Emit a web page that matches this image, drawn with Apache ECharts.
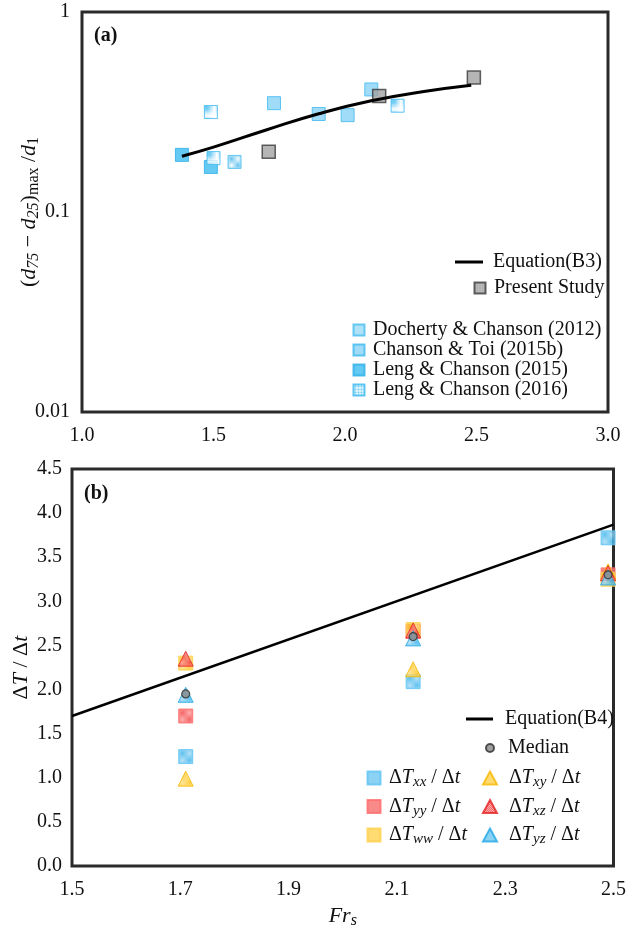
<!DOCTYPE html>
<html>
<head>
<meta charset="utf-8">
<script src="https://cdn.jsdelivr.net/npm/echarts@6/dist/echarts.min.js"></script>
<style>
  html, body { margin: 0; padding: 0; background: #ffffff; }
  #chart { width: 629px; height: 930px; }
</style>
</head>
<body>
<div id="chart"></div>
<script>
// ---------- Panel (a): (d75 - d25)max / d1 against Frs ----------
const frA_docherty = [1.58];
const valA_docherty = [0.178];
const frA_chansonToi = [1.73, 1.90, 2.01, 2.10];
const valA_chansonToi = [0.35, 0.309, 0.305, 0.41];
const frA_leng2015 = [1.38, 1.49];
const valA_leng2015 = [0.193, 0.168];
const frA_leng2016 = [1.49, 1.50, 2.20];
const valA_leng2016 = [0.316, 0.186, 0.34];
const frA_present = [1.71, 2.13, 2.49];
const valA_present = [0.20, 0.38, 0.47];
const frA_eqB3 = [1.38, 1.50, 1.70, 1.90, 2.10, 2.30, 2.48];
const valA_eqB3 = [0.19, 0.211, 0.257, 0.31, 0.36, 0.40, 0.43];
const xTicksA = [1.0, 1.5, 2.0, 2.5, 3.0];

// ---------- Panel (b): ΔT/Δt against Frs ----------
const frB = [1.71, 2.13, 2.49];
const dTxx = [1.24, 2.09, 3.72];
const dTyy = [1.70, 2.66, 3.30];
const dTww = [2.30, 2.68, 3.25];
const dTxy = [0.99, 2.23, 3.34];
const dTxz = [2.35, 2.67, 3.32];
const dTyz = [1.94, 2.58, 3.27];
const dTmedian = [1.95, 2.60, 3.30];
const frB_eqB4 = [1.5, 2.5];
const valB_eqB4 = [1.70, 3.87];
const xTicksB = [1.5, 1.7, 1.9, 2.1, 2.3, 2.5];

const zip = (xs, ys) => xs.map((x, i) => [x, ys[i]]);
const SERIF = 'Liberation Serif';

// small repeating fills for the hatched markers
function checker(c1, c2) {
  const cv = document.createElement('canvas');
  cv.width = 2; cv.height = 2;
  const ctx = cv.getContext('2d');
  ctx.fillStyle = c2; ctx.fillRect(0, 0, 2, 2);
  ctx.fillStyle = c1; ctx.fillRect(0, 0, 1, 1); ctx.fillRect(1, 1, 1, 1);
  return { image: cv, repeat: 'repeat' };
}
function gridFill(bg, line) {
  const cv = document.createElement('canvas');
  cv.width = 3; cv.height = 3;
  const ctx = cv.getContext('2d');
  ctx.fillStyle = bg; ctx.fillRect(0, 0, 3, 3);
  ctx.fillStyle = line; ctx.fillRect(0, 0, 3, 1); ctx.fillRect(0, 0, 1, 3);
  return { image: cv, repeat: 'repeat' };
}

const BLUE = '#33b2ec', RED = '#f23d3d', YEL = '#ffc20e';
const fillBlue = checker(BLUE, '#a9dcf6');
const fillRed = checker(RED, '#ff9d9d');
const fillYel = checker(YEL, '#ffe390');

const rich = {
  n: { fontFamily: SERIF, fontSize: 20, lineHeight: 24, color: '#111' },
  i: { fontFamily: SERIF, fontSize: 20, lineHeight: 24, fontStyle: 'italic', color: '#111' },
  s: { fontFamily: SERIF, fontSize: 15, lineHeight: 15, fontStyle: 'italic', verticalAlign: 'bottom', color: '#111' },
  u: { fontFamily: SERIF, fontSize: 15, lineHeight: 15, verticalAlign: 'bottom', color: '#111' }
};
const richName = {
  n: { ...rich.n, fontSize: 22, lineHeight: 26 },
  i: { ...rich.i, fontSize: 22, lineHeight: 26 },
  s: { ...rich.s, fontSize: 16, lineHeight: 16 },
  u: { ...rich.u, fontSize: 16, lineHeight: 16 }
};
const richLabels = {
  'ΔTxx/Δt': '{n|Δ}{i|T}{s|xx}{n| / Δ}{i|t}',
  'ΔTyy/Δt': '{n|Δ}{i|T}{s|yy}{n| / Δ}{i|t}',
  'ΔTww/Δt': '{n|Δ}{i|T}{s|ww}{n| / Δ}{i|t}',
  'ΔTxy/Δt': '{n|Δ}{i|T}{s|xy}{n| / Δ}{i|t}',
  'ΔTxz/Δt': '{n|Δ}{i|T}{s|xz}{n| / Δ}{i|t}',
  'ΔTyz/Δt': '{n|Δ}{i|T}{s|yz}{n| / Δ}{i|t}'
};
const textPad = left => ({ fontFamily: SERIF, fontSize: 20, color: '#111', padding: [0, 0, 0, left] });
const legendBase = { padding: 0, selectedMode: false, symbolKeepAspect: false };

const axisLabelStyle = { fontFamily: SERIF, fontSize: 20, color: '#111' };

const chart = echarts.init(document.getElementById('chart'), null, { renderer: 'canvas' });

chart.setOption({
  animation: false,
  backgroundColor: '#ffffff',
  grid: [
    { left: 82, top: 12, width: 526, height: 400, show: true, borderColor: '#2a2a2a', borderWidth: 3 },
    { left: 72, top: 469, width: 545, height: 401, show: true, borderColor: '#2a2a2a', borderWidth: 3 }
  ],
  xAxis: [
    {
      gridIndex: 0, type: 'value', min: 1.0, max: 3.0, interval: 0.5,
      axisLine: { show: false }, axisTick: { show: false }, splitLine: { show: false },
      axisLabel: { ...axisLabelStyle, margin: 14, customValues: xTicksA, formatter: v => v.toFixed(1) }
    },
    {
      gridIndex: 1, type: 'value', min: 1.5, max: 2.5,
      axisLine: { show: false }, axisTick: { show: false }, splitLine: { show: false },
      axisLabel: { ...axisLabelStyle, margin: 14, customValues: xTicksB, formatter: v => v.toFixed(1) },
      name: '{i|Fr}{s|s}', nameLocation: 'middle', nameGap: 37, nameMoveOverlap: false,
      nameTextStyle: { rich: richName }
    }
  ],
  yAxis: [
    {
      gridIndex: 0, type: 'log', logBase: 10, min: 0.01, max: 1,
      axisLine: { show: false }, axisTick: { show: false }, splitLine: { show: false },
      axisLabel: { ...axisLabelStyle, margin: 12, formatter: v => String(+v.toPrecision(3)) },
      name: '{n|(}{i|d}{s|75}{n| − }{i|d}{s|25}{n|)}{u|max}{n| /}{i|d}{u|1}',
      nameLocation: 'middle', nameGap: 40, nameMoveOverlap: false,
      nameTextStyle: { rich: richName }
    },
    {
      gridIndex: 1, type: 'value', min: 0, max: 4.5, interval: 0.5,
      axisLine: { show: false }, axisTick: { show: false }, splitLine: { show: false },
      axisLabel: { ...axisLabelStyle, margin: 10, formatter: v => v.toFixed(1) },
      name: '{n|Δ}{i|T}{n| / Δ}{i|t}', nameLocation: 'middle', nameGap: 38, nameMoveOverlap: false,
      nameTextStyle: { rich: richName }
    }
  ],
  legend: [
    { ...legendBase, data: [{ name: 'Equation(B3)', icon: 'rect' }], left: 455, top: 252, itemWidth: 28, itemHeight: 3, textStyle: textPad(5) },
    { ...legendBase, data: ['Present Study'], left: 473.5, top: 278, itemWidth: 11, itemHeight: 11, textStyle: textPad(3.5) },
    { ...legendBase, orient: 'vertical', data: ['Docherty & Chanson (2012)', 'Chanson & Toi (2015b)', 'Leng & Chanson (2015)', 'Leng & Chanson (2016)'],
      left: 352.5, top: 320, itemWidth: 11, itemHeight: 11, itemGap: 0, textStyle: textPad(3.5) },
    { ...legendBase, data: [{ name: 'Equation(B4)', icon: 'rect' }], left: 466, top: 709, itemWidth: 27, itemHeight: 3, textStyle: textPad(7) },
    { ...legendBase, data: ['Median'], left: 485, top: 738, itemWidth: 8, itemHeight: 8, textStyle: textPad(9) },
    { ...legendBase, orient: 'vertical', data: ['ΔTxx/Δt', 'ΔTyy/Δt', 'ΔTww/Δt'], left: 366.5, top: 768,
      itemWidth: 13, itemHeight: 13, itemGap: 6.5, formatter: n => richLabels[n], textStyle: { padding: [0, 0, 0, 3.5], rich } },
    { ...legendBase, orient: 'vertical', data: ['ΔTxy/Δt', 'ΔTxz/Δt', 'ΔTyz/Δt'], left: 482, top: 768,
      itemWidth: 14, itemHeight: 13, itemGap: 6.5, formatter: n => richLabels[n], textStyle: { padding: [0, 0, 0, 7], rich } }
  ],
  graphic: [
    { type: 'text', left: 94, top: 26, style: { text: '(a)', font: 'bold 20px "Liberation Serif"', fill: '#111' } },
    { type: 'text', left: 84, top: 484, style: { text: '(b)', font: 'bold 20px "Liberation Serif"', fill: '#111' } }
  ],
  series: [
    // panel (a)
    { type: 'scatter', name: 'Docherty & Chanson (2012)', xAxisIndex: 0, yAxisIndex: 0, symbol: 'rect', symbolSize: 13,
      data: zip(frA_docherty, valA_docherty), itemStyle: { color: checker('#3ab5ee', '#ffffff'), borderColor: '#47bdf0', borderWidth: 1 } },
    { type: 'scatter', name: 'Chanson & Toi (2015b)', xAxisIndex: 0, yAxisIndex: 0, symbol: 'rect', symbolSize: 13,
      data: zip(frA_chansonToi, valA_chansonToi), itemStyle: { color: '#88d2f5', borderColor: '#3cb8f0', borderWidth: 1 } },
    { type: 'scatter', name: 'Leng & Chanson (2015)', xAxisIndex: 0, yAxisIndex: 0, symbol: 'rect', symbolSize: 13,
      data: zip(frA_leng2015, valA_leng2015), itemStyle: { color: '#3fbdf0', borderColor: '#2aaee8', borderWidth: 1 } },
    { type: 'scatter', name: 'Leng & Chanson (2016)', xAxisIndex: 0, yAxisIndex: 0, symbol: 'rect', symbolSize: 13,
      data: zip(frA_leng2016, valA_leng2016), itemStyle: { color: gridFill('#4fc1f2', '#ffffff'), borderColor: '#3ab8f0', borderWidth: 1 } },
    { type: 'scatter', name: 'Present Study', xAxisIndex: 0, yAxisIndex: 0, symbol: 'rect', symbolSize: 13,
      data: zip(frA_present, valA_present), itemStyle: { color: '#a2a2a2', borderColor: '#3a3a3a', borderWidth: 1.5 } },
    { type: 'line', name: 'Equation(B3)', xAxisIndex: 0, yAxisIndex: 0, smooth: true, symbol: 'none',
      data: zip(frA_eqB3, valA_eqB3), lineStyle: { color: '#000', width: 3 }, itemStyle: { color: '#000' } },
    // panel (b)
    { type: 'line', name: 'Equation(B4)', xAxisIndex: 1, yAxisIndex: 1, symbol: 'none',
      data: zip(frB_eqB4, valB_eqB4), lineStyle: { color: '#000', width: 2.5 }, itemStyle: { color: '#000' } },
    { type: 'scatter', name: 'ΔTxx/Δt', xAxisIndex: 1, yAxisIndex: 1, symbol: 'rect', symbolSize: 14,
      data: zip(frB, dTxx), itemStyle: { color: fillBlue, borderColor: '#5cc3f2', borderWidth: 1 } },
    { type: 'scatter', name: 'ΔTyy/Δt', xAxisIndex: 1, yAxisIndex: 1, symbol: 'rect', symbolSize: 14,
      data: zip(frB, dTyy), itemStyle: { color: fillRed, borderColor: '#ff6a6a', borderWidth: 1 } },
    { type: 'scatter', name: 'ΔTww/Δt', xAxisIndex: 1, yAxisIndex: 1, symbol: 'rect', symbolSize: 14,
      data: zip(frB, dTww), itemStyle: { color: fillYel, borderColor: '#ffd04a', borderWidth: 1 } },
    { type: 'scatter', name: 'ΔTxy/Δt', xAxisIndex: 1, yAxisIndex: 1, symbol: 'triangle', symbolSize: 15,
      data: zip(frB, dTxy), itemStyle: { color: fillYel, borderColor: '#f5b800', borderWidth: 1 } },
    { type: 'scatter', name: 'ΔTxz/Δt', xAxisIndex: 1, yAxisIndex: 1, symbol: 'triangle', symbolSize: 15,
      data: zip(frB, dTxz), itemStyle: { color: fillRed, borderColor: '#e32020', borderWidth: 1 } },
    { type: 'scatter', name: 'ΔTyz/Δt', xAxisIndex: 1, yAxisIndex: 1, symbol: 'triangle', symbolSize: 15,
      data: zip(frB, dTyz), itemStyle: { color: fillBlue, borderColor: '#22a6e6', borderWidth: 1 } },
    { type: 'scatter', name: 'Median', xAxisIndex: 1, yAxisIndex: 1, symbol: 'circle', symbolSize: 8,
      data: zip(frB, dTmedian), itemStyle: { color: '#8a8a8a', borderColor: '#2e2e2e', borderWidth: 1.2 } }
  ]
});
</script>
</body>
</html>
